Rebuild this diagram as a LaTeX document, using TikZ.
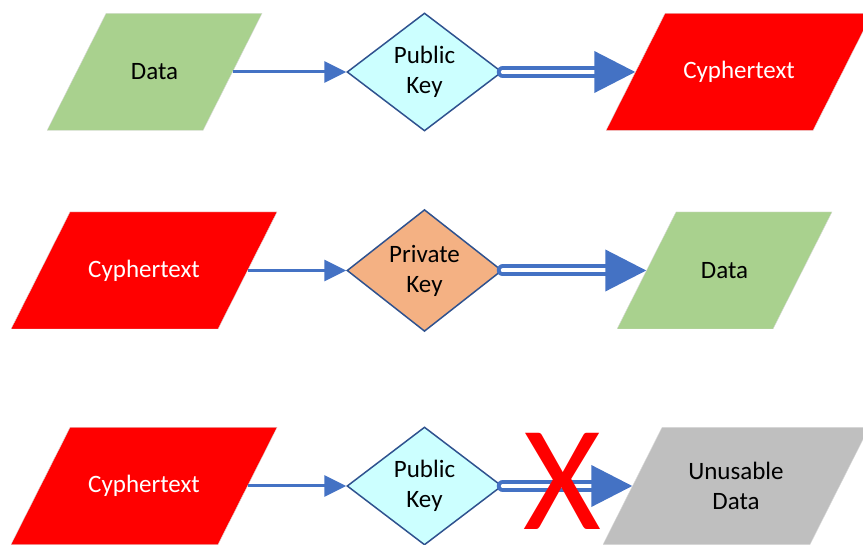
\documentclass[tikz,border=0pt]{standalone}
\usepackage{fontspec}
\setmainfont{Carlito}
\usetikzlibrary{arrows.meta}
\usetikzlibrary{shapes.geometric}

\definecolor{arrowblue}{HTML}{4472C4}
\definecolor{keyborder}{HTML}{2F528F}
\definecolor{keycyan}{HTML}{CCFFFF}
\definecolor{keyorange}{HTML}{F4B183}
\definecolor{datagreen}{HTML}{A9D18E}
\definecolor{unusegray}{HTML}{BFBFBF}

\tikzset{
  slanted/.style={rectangle, minimum height=117pt, inner sep=0pt,
    font=\fontsize{25}{30}\selectfont, align=center,
    path picture={\filldraw[fill=#1, draw=gray!30, thin]
      ([xshift=59pt]path picture bounding box.north west) -- (path picture bounding box.north east)
      -- ([xshift=-59pt]path picture bounding box.south east) -- (path picture bounding box.south west) -- cycle;}},
  keybox/.style={diamond, draw=keyborder, line width=1.5pt, minimum width=155pt,
    minimum height=118pt, inner sep=0pt, font=\fontsize{25}{30}\selectfont, align=center},
  feed/.style={arrowblue, line width=3pt, shorten <=-29.5pt, -{Triangle[length=22pt,width=21pt]}},
  result/.style={arrowblue, line width=4pt, double=white, double distance=4pt, line cap=round,
    shorten >=-29.5pt, -{Triangle[length=41pt,width=41pt]}}
}

\begin{document}
\begin{tikzpicture}[x=1pt,y=-1pt]
\useasboundingbox (0,0) rectangle (863,545);
% Encrypt with the public key
\node[slanted=datagreen, minimum width=215pt] at (154.5,72) (data1) {Data};
\node[keybox, fill=keycyan] at (424.5,72) (pub1) {Public\\Key};
\node[slanted=red, text=white, minimum width=266pt] at (739,72) (cyph1) {Cyphertext};
\draw[feed] (data1.east) -- (pub1.west);
\draw[result] (pub1.east) -- (cyph1.west);
% Decrypt with the private key
\node[slanted=red, text=white, minimum width=266pt] at (144,270.5) (cyph2) {Cyphertext};
\node[keybox, fill=keyorange] at (424.5,270.5) (priv2) {Private\\Key};
\node[slanted=datagreen, minimum width=215pt] at (724.5,270.5) (data2) {Data};
\draw[feed] (cyph2.east) -- (priv2.west);
\draw[result] (priv2.east) -- (data2.west);
% Public key does not decrypt
\node[slanted=red, text=white, minimum width=266pt] at (144,486) (cyph3) {Cyphertext};
\node[keybox, fill=keycyan] at (424.5,486) (pub3) {Public\\Key};
\node[slanted=unusegray, minimum width=266pt] at (736,486) (junk3) {Unusable\\Data};
\draw[feed] (cyph3.east) -- (pub3.west);
\draw[result] (pub3.east) -- (junk3.west);
\node[text=red, font=\fontsize{150}{150}\selectfont, inner sep=0pt] at (562,481) (cross) {X};
\end{tikzpicture}
\end{document}
